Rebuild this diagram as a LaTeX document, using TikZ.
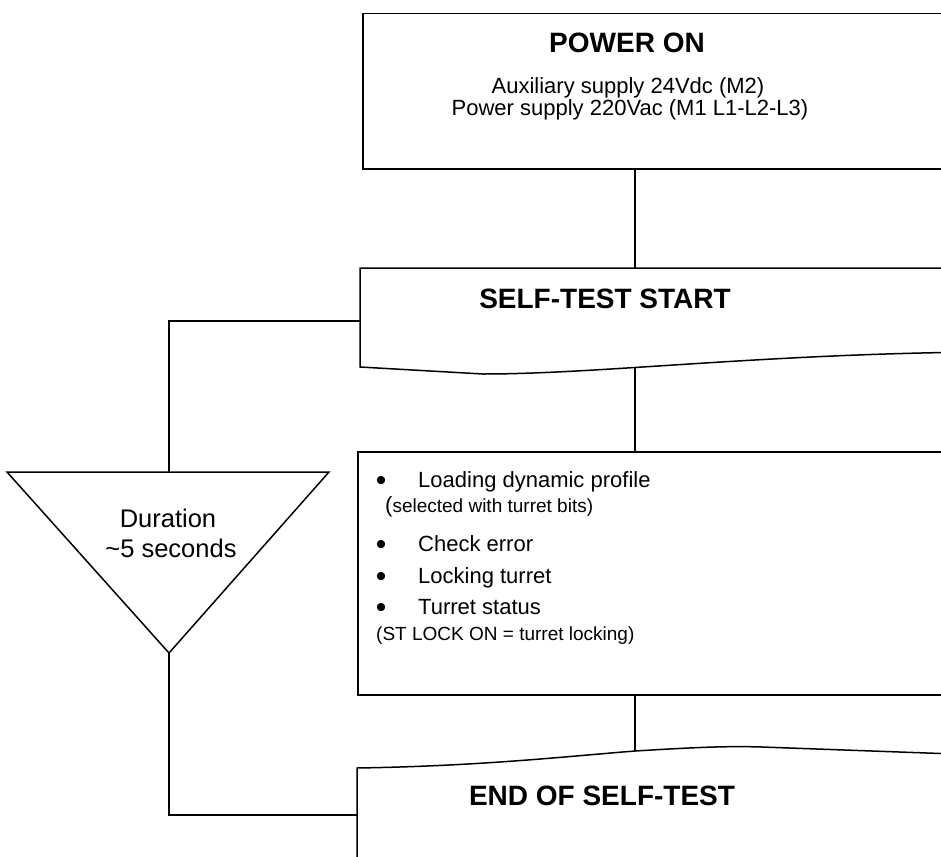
\documentclass[tikz,border=0pt]{standalone}
\usepackage{fontspec}
\setmainfont{Liberation Sans}
\usetikzlibrary{calc}
\tikzset{
  box/.style={draw=black, line width=1.5pt},
  conn/.style={draw=black, line width=1.5pt},
  txt/.style={inner sep=0pt, anchor=base},
  txtw/.style={inner sep=0pt, anchor=base west},
  bull/.style={inner sep=0pt, anchor=base, font=\fontsize{30}{32}\selectfont},
}
\newcommand\fnorm{\fontsize{22}{26}\selectfont}
\newcommand\fsmallx{\fontsize{19}{22}\selectfont}
\newcommand\ftitle{\fontsize{28}{32}\selectfont\bfseries}
\newcommand\fdur{\fontsize{25.5}{30}\selectfont}
\begin{document}
\begin{tikzpicture}[x=1pt,y=-1pt]
\useasboundingbox (0,0) rectangle (941,856);
\clip (0,0) rectangle (941,856);
% spine coordinate
\coordinate (spine) at (635,0);
% POWER ON box
\node[box, anchor=north west, minimum width=620pt, minimum height=155pt, inner sep=0pt] (power) at (362,13) {};
\node[txt] (pwrT) at (627,53) {\ftitle POWER ON};
\node[txt] (pwrA) at (628,94) {\fnorm Auxiliary supply 24Vdc (M2)};
\node[txt] (pwrB) at (630,116) {\fnorm Power supply 220Vac (M1 L1-L2-L3)};
% SELF-TEST START (document shape)
\draw[box] (982,268) -- (360,268) -- (360,367) -- (483,374) .. controls (600,374) and (760,354) .. (982,352);
\coordinate (stN) at (635,268);
\coordinate (stS) at (635,367);
\coordinate (stW) at (360,321);
\node[txt] (stT) at (605,308) {\ftitle SELF-TEST START};
% bullet box
\node[box, anchor=north west, minimum width=625pt, minimum height=243pt, inner sep=0pt] (bul) at (357,451) {};
\node[bull] (b1) at (381,490.5) {\textbullet};
\node[txtw] (t1) at (418,487) {\fnorm Loading dynamic profile};
\node[txtw] (t1s) at (385,512) {\fnorm(\fsmallx selected with turret bits)};
\node[bull] (b2) at (381,554.5) {\textbullet};
\node[txtw] (t2) at (418,551) {\fnorm Check error};
\node[bull] (b3) at (381,586.5) {\textbullet};
\node[txtw] (t3) at (418,583) {\fnorm Locking turret};
\node[bull] (b4) at (381,617.5) {\textbullet};
\node[txtw] (t4) at (418,614) {\fnorm Turret status};
\node[txtw] (t4s) at (376,640) {\fsmallx (ST LOCK ON = turret locking)};
% END OF SELF-TEST
\draw[box] (357,870) -- (357,768) .. controls (480,766) and (560,757) .. (635,751) .. controls (700,747) and (730,746) .. (762,747) -- (982,755);
\coordinate (endN) at (635,751);
\coordinate (endW) at (357,815);
\node[txt] (endT) at (602,805) {\ftitle END OF SELF-TEST};
% triangle
\draw[box] (7,472) -- (329,472) -- (169,653) -- cycle;
\coordinate (triN) at (169,472);
\coordinate (triS) at (169,653);
\node[txt] (d1) at (168,527) {\fdur Duration};
\node[txt] (d2) at (171,557) {\fdur \textasciitilde5 seconds};
% connectors
\draw[conn] (power.south -| spine) -- (stN);
\draw[conn] (stS) -- (bul.north -| spine);
\draw[conn] (bul.south -| spine) -- (endN);
\draw[conn] (stW) -| (triN);
\draw[conn] (triS) |- (endW);
\end{tikzpicture}
\end{document}
